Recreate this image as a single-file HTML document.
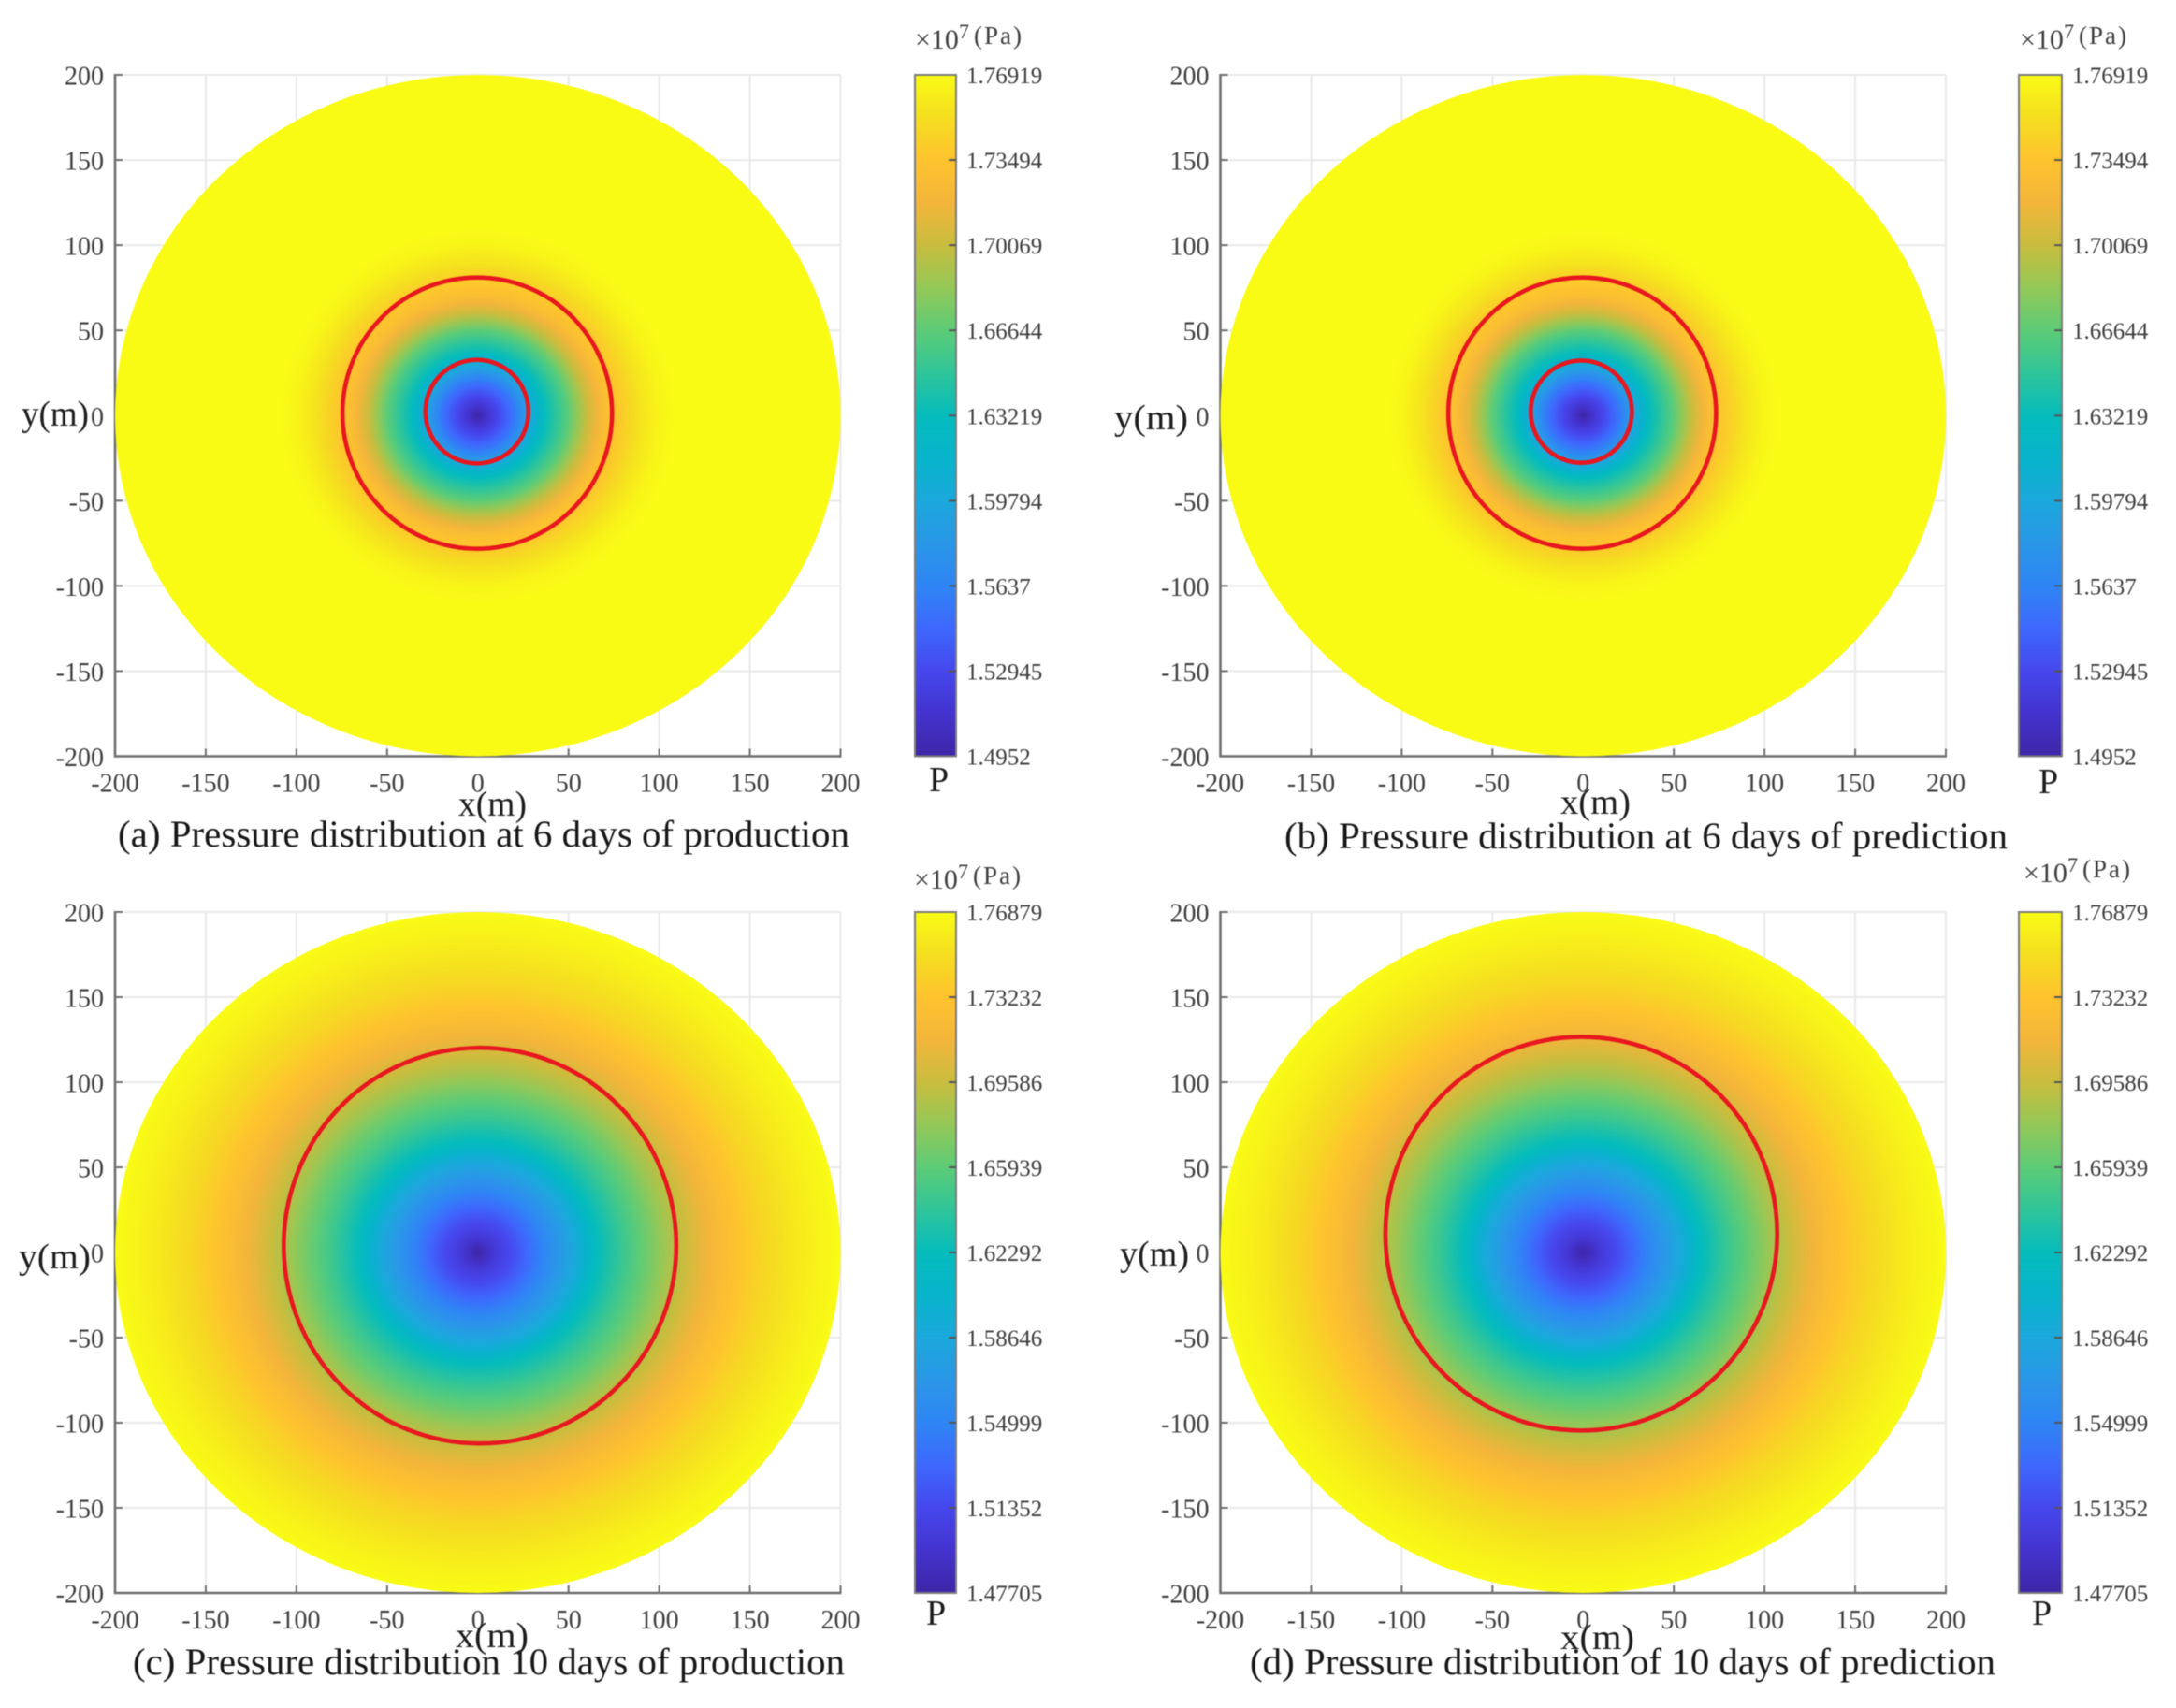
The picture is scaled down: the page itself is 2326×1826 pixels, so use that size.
<!DOCTYPE html>
<html lang="en">
<head>
<meta charset="utf-8">
<title>Pressure distribution comparison</title>
<style>
html,body{margin:0;padding:0;background:#fff;}
#figure{display:block;width:2326px;height:1826px;filter:blur(0.6px);font-family:"Liberation Serif",serif;}
.title{font-size:40px;fill:#161616;}
.axis-label{font-size:38px;fill:#1c1c1c;}
.tick{font-size:28px;fill:#3e3e3e;}
.cbar-tick{font-size:25px;fill:#3e3e3e;}
.unit{fill:#3e3e3e;}
</style>
</head>
<body>
<svg id="figure" xmlns="http://www.w3.org/2000/svg" width="2326" height="1826" viewBox="0 0 2326 1826">
  <defs id="defs"></defs>
  <rect x="0" y="0" width="2326" height="1826" fill="#fff"></rect>

  <g id="panel-a"></g>
  <g id="panel-b"></g>
  <g id="panel-c"></g>
  <g id="panel-d"></g>

  <g>
    <text class="title" x="126" y="905" textLength="782" lengthAdjust="spacingAndGlyphs">(a) Pressure distribution at 6 days of production</text>
    <text class="axis-label" x="490" y="872" textLength="73" lengthAdjust="spacingAndGlyphs">x(m)</text>
    <text class="axis-label" x="23" y="455" textLength="72" lengthAdjust="spacingAndGlyphs">y(m)</text>
    <text class="axis-label" x="993" y="846">P</text>
    <text class="unit" x="978" y="52" font-size="30">×10</text>
    <text class="unit" x="1025" y="41" font-size="22">7</text>
    <text class="unit" x="1041" y="47" font-size="27" textLength="51">(Pa)</text>
  </g>
  <g>
    <text class="title" x="1373" y="907" textLength="773" lengthAdjust="spacingAndGlyphs">(b) Pressure distribution at 6 days of prediction</text>
    <text class="axis-label" x="1668" y="870" textLength="75" lengthAdjust="spacingAndGlyphs">x(m)</text>
    <text class="axis-label" x="1191" y="459" textLength="79" lengthAdjust="spacingAndGlyphs">y(m)</text>
    <text class="axis-label" x="2179" y="848">P</text>
    <text class="unit" x="2159" y="52" font-size="30">×10</text>
    <text class="unit" x="2206" y="41" font-size="22">7</text>
    <text class="unit" x="2222" y="47" font-size="27" textLength="51">(Pa)</text>
  </g>
  <g>
    <text class="title" x="142" y="1790" textLength="761" lengthAdjust="spacingAndGlyphs">(c) Pressure distribution 10 days of production</text>
    <text class="axis-label" x="487" y="1761" textLength="78" lengthAdjust="spacingAndGlyphs">x(m)</text>
    <text class="axis-label" x="20" y="1356" textLength="77" lengthAdjust="spacingAndGlyphs">y(m)</text>
    <text class="axis-label" x="990" y="1737">P</text>
    <text class="unit" x="977" y="950" font-size="30">×10</text>
    <text class="unit" x="1024" y="939" font-size="22">7</text>
    <text class="unit" x="1040" y="945" font-size="27" textLength="51">(Pa)</text>
  </g>
  <g>
    <text class="title" x="1336" y="1790" textLength="797" lengthAdjust="spacingAndGlyphs">(d) Pressure distribution of 10 days of prediction</text>
    <text class="axis-label" x="1668" y="1763" textLength="79" lengthAdjust="spacingAndGlyphs">x(m)</text>
    <text class="axis-label" x="1197" y="1353" textLength="74" lengthAdjust="spacingAndGlyphs">y(m)</text>
    <text class="axis-label" x="2172" y="1737">P</text>
    <text class="unit" x="2163" y="943" font-size="30">×10</text>
    <text class="unit" x="2210" y="932" font-size="22">7</text>
    <text class="unit" x="2226" y="938" font-size="27" textLength="51">(Pa)</text>
  </g>
</svg>

<script>
// ---- chart data ----
const axisTicks = [-200, -150, -100, -50, 0, 50, 100, 150, 200];
const colorbarLabels6Days = ['1.4952', '1.52945', '1.5637', '1.59794', '1.63219', '1.66644', '1.70069', '1.73494', '1.76919'];
const colorbarLabels10Days = ['1.47705', '1.51352', '1.54999', '1.58646', '1.62292', '1.65939', '1.69586', '1.73232', '1.76879'];

// radial pressure profiles: distance from well (m) and pressure (x10^7 Pa)
const radiusA = [0, 5, 12, 20, 29, 37, 50, 60, 70, 78, 90, 100, 110, 200];
const pressureA = [1.4952, 1.5116, 1.5308, 1.5555, 1.5966, 1.6322, 1.6664, 1.7007, 1.7281, 1.7390, 1.7555, 1.7651, 1.7692, 1.7692];
const radiusB = [0, 5, 12, 20, 29, 37, 50, 60, 70, 78, 90, 100, 110, 200];
const pressureB = [1.4952, 1.5116, 1.5308, 1.5555, 1.5966, 1.6322, 1.6664, 1.7007, 1.7281, 1.7390, 1.7560, 1.7660, 1.7692, 1.7692];
const radiusC = [0, 4, 10, 20, 30, 40, 56, 66, 80, 96, 105, 120, 139, 158, 178, 200];
const pressureC = [1.47705, 1.4873, 1.5018, 1.5179, 1.5383, 1.5587, 1.5938, 1.6229, 1.6463, 1.6696, 1.6842, 1.7046, 1.7280, 1.7455, 1.7586, 1.76879];
const radiusD = [0, 4, 10, 20, 30, 40, 56, 66, 80, 96, 105, 120, 139, 158, 178, 200];
const pressureD = [1.47705, 1.4873, 1.5018, 1.5179, 1.5383, 1.5587, 1.5938, 1.6229, 1.6463, 1.6696, 1.6842, 1.7046, 1.7280, 1.7455, 1.7586, 1.76879];

// front rings, in metres: centre x, centre y, x radius, y radius
const ringCentreXA = [-0.3, -0.5];
const ringCentreYA = [1.4, 2.3];
const ringRadiusXA = [74.3, 28.4];
const ringRadiusYA = [79.6, 30.4];
const ringCentreXB = [-0.5, -1];
const ringCentreYB = [1.4, 2.3];
const ringRadiusXB = [73.8, 27.9];
const ringRadiusYB = [79.6, 30];
const ringCentreXC = [1.2];
const ringCentreYC = [4];
const ringRadiusXC = [108.2];
const ringRadiusYC = [116.2];
const ringCentreXD = [-1];
const ringCentreYD = [11];
const ringRadiusXD = [108];
const ringRadiusYD = [115.6];

// parula-style colour map
const colorPositions = [0, 0.0625, 0.125, 0.1875, 0.25, 0.3125, 0.375, 0.4375, 0.5, 0.5625, 0.625, 0.6875, 0.75, 0.8125, 0.875, 0.9375, 1];
const colorValues = ['#3e26a8', '#4433ce', '#4647ee', '#3e68fd', '#2f85f5', '#2a97e8', '#1ba8dc', '#07b4cb', '#05bcbc', '#2fc59a', '#5ccc77', '#94c857', '#c8bd3e', '#f4b53a', '#fec32e', '#f5de20', '#f9fb15'];

// ---- drawing ----
const SVG_NS = 'http://www.w3.org/2000/svg';
const AXIS_MIN = -200;
const AXIS_MAX = 200;

function el(tag, attrs, parent) {
  const node = document.createElementNS(SVG_NS, tag);
  for (const key in attrs) node.setAttribute(key, attrs[key]);
  parent.appendChild(node);
  return node;
}
function hexToRgb(hex) {
  return [parseInt(hex.slice(1, 3), 16), parseInt(hex.slice(3, 5), 16), parseInt(hex.slice(5, 7), 16)];
}
function colorAt(t) {
  const v = Math.max(0, Math.min(1, t));
  let i = 0;
  while (i < colorPositions.length - 2 && v > colorPositions[i + 1]) i++;
  const f = (v - colorPositions[i]) / (colorPositions[i + 1] - colorPositions[i]);
  const a = hexToRgb(colorValues[i]);
  const b = hexToRgb(colorValues[i + 1]);
  return 'rgb(' + a.map(function (c, k) { return Math.round(c + (b[k] - c) * f); }).join(',') + ')';
}
function lookup(xs, ys, x) {
  if (x <= xs[0]) return ys[0];
  for (let i = 1; i < xs.length; i++) {
    if (x <= xs[i]) return ys[i - 1] + (ys[i] - ys[i - 1]) * (x - xs[i - 1]) / (xs[i] - xs[i - 1]);
  }
  return ys[ys.length - 1];
}

const defsNode = document.getElementById('defs');

function drawPanel(cfg) {
  const root = document.getElementById(cfg.id);
  const xScale = function (v) { return cfg.left + (v - AXIS_MIN) / (AXIS_MAX - AXIS_MIN) * (cfg.right - cfg.left); };
  const yScale = function (v) { return cfg.bottom - (v - AXIS_MIN) / (AXIS_MAX - AXIS_MIN) * (cfg.bottom - cfg.top); };

  // grid lines
  axisTicks.forEach(function (tick) {
    const vLine = el('line', { x1: xScale(tick), x2: xScale(tick), y1: cfg.top, y2: cfg.bottom, stroke: '#e9e9e9', 'stroke-width': 2 }, root);
    
    
    const hLine = el('line', { x1: cfg.left, x2: cfg.right, y1: yScale(tick), y2: yScale(tick), stroke: '#e9e9e9', 'stroke-width': 2 }, root);
    
    
  });

  // axis lines
  const xAxis = el('line', { x1: cfg.left - 1, x2: cfg.right + 1, y1: cfg.bottom, y2: cfg.bottom, stroke: '#6e6e6e', 'stroke-width': 2.6 }, root);
  
  
  const yAxis = el('line', { x1: cfg.left, x2: cfg.left, y1: cfg.top - 1, y2: cfg.bottom + 1, stroke: '#6e6e6e', 'stroke-width': 2.6 }, root);
  
  

  // tick marks and labels
  axisTicks.forEach(function (tick) {
    const xTick = el('line', { x1: xScale(tick), x2: xScale(tick), y1: cfg.bottom, y2: cfg.bottom - 8, stroke: '#6e6e6e', 'stroke-width': 2 }, root);
    
    
    const yTick = el('line', { x1: cfg.left, x2: cfg.left + 8, y1: yScale(tick), y2: yScale(tick), stroke: '#6e6e6e', 'stroke-width': 2 }, root);
    
    
    const xLabel = el('text', { x: xScale(tick), y: cfg.bottom + 38, 'text-anchor': 'middle', class: 'tick' }, root);
    xLabel.textContent = String(tick);
    
    
    const yLabel = el('text', { x: cfg.left - 12, y: yScale(tick) + 10.5, 'text-anchor': 'end', class: 'tick' }, root);
    yLabel.textContent = String(tick);
    
    
  });

  // pressure field as a radial gradient built from the profile arrays
  const minP = parseFloat(cfg.labels[0]);
  const maxP = parseFloat(cfg.labels[cfg.labels.length - 1]);
  const gradient = el('radialGradient', { id: cfg.id + '-field', cx: 0.5, cy: 0.5, r: 0.5 }, defsNode);
  const stopCount = 160;
  for (let i = 0; i <= stopCount; i++) {
    const frac = i / stopCount;
    const p = lookup(cfg.radius, cfg.pressure, frac * AXIS_MAX);
    el('stop', { offset: frac, 'stop-color': colorAt((p - minP) / (maxP - minP)) }, gradient);
  }
  const field = el('ellipse', {
    cx: xScale(0), cy: yScale(0),
    rx: xScale(AXIS_MAX) - xScale(0), ry: yScale(0) - yScale(AXIS_MAX),
    fill: 'url(#' + cfg.id + '-field)'
  }, root);
  
  

  // fronts
  cfg.ringX.forEach(function (cx, i) {
    const ring = el('ellipse', {
      cx: xScale(cx), cy: yScale(cfg.ringY[i]),
      rx: xScale(cfg.ringRx[i]) - xScale(0), ry: yScale(0) - yScale(cfg.ringRy[i]),
      fill: 'none', stroke: '#e8161f', 'stroke-width': 4.6
    }, root);
    
    
  });

  // colour bar
  const barGradient = el('linearGradient', { id: cfg.id + '-bar', x1: 0, y1: 1, x2: 0, y2: 0 }, defsNode);
  colorPositions.forEach(function (pos, i) {
    el('stop', { offset: pos, 'stop-color': colorValues[i] }, barGradient);
  });
  const bar = el('rect', {
    x: cfg.barLeft, y: cfg.top, width: cfg.barRight - cfg.barLeft, height: cfg.bottom - cfg.top,
    fill: 'url(#' + cfg.id + '-bar)', stroke: '#7c7c7c', 'stroke-width': 2
  }, root);
  
  

  cfg.labels.forEach(function (label) {
    const value = parseFloat(label);
    const barY = cfg.bottom - (value - minP) / (maxP - minP) * (cfg.bottom - cfg.top);
    if (value > minP && value < maxP) {
      const mark = el('line', { x1: cfg.barRight - 8, x2: cfg.barRight, y1: barY, y2: barY, stroke: '#555', 'stroke-width': 2 }, root);
      
      
    }
    const text = el('text', { x: cfg.barRight + 11, y: barY + 9, class: 'cbar-tick' }, root);
    text.textContent = label;
    
    
  });
}

drawPanel({ id: 'panel-a', left: 123, right: 898.5, top: 80, bottom: 808.5, barLeft: 978, barRight: 1022,
  labels: colorbarLabels6Days, radius: radiusA, pressure: pressureA,
  ringX: ringCentreXA, ringY: ringCentreYA, ringRx: ringRadiusXA, ringRy: ringRadiusYA });
drawPanel({ id: 'panel-b', left: 1304.5, right: 2080, top: 80, bottom: 808.5, barLeft: 2158, barRight: 2204,
  labels: colorbarLabels6Days, radius: radiusB, pressure: pressureB,
  ringX: ringCentreXB, ringY: ringCentreYB, ringRx: ringRadiusXB, ringRy: ringRadiusYB });
drawPanel({ id: 'panel-c', left: 123, right: 898.5, top: 975, bottom: 1703, barLeft: 978, barRight: 1022,
  labels: colorbarLabels10Days, radius: radiusC, pressure: pressureC,
  ringX: ringCentreXC, ringY: ringCentreYC, ringRx: ringRadiusXC, ringRy: ringRadiusYC });
drawPanel({ id: 'panel-d', left: 1304.5, right: 2080, top: 975, bottom: 1703, barLeft: 2158, barRight: 2204,
  labels: colorbarLabels10Days, radius: radiusD, pressure: pressureD,
  ringX: ringCentreXD, ringY: ringCentreYD, ringRx: ringRadiusXD, ringRy: ringRadiusYD });
</script>
</body>
</html>
